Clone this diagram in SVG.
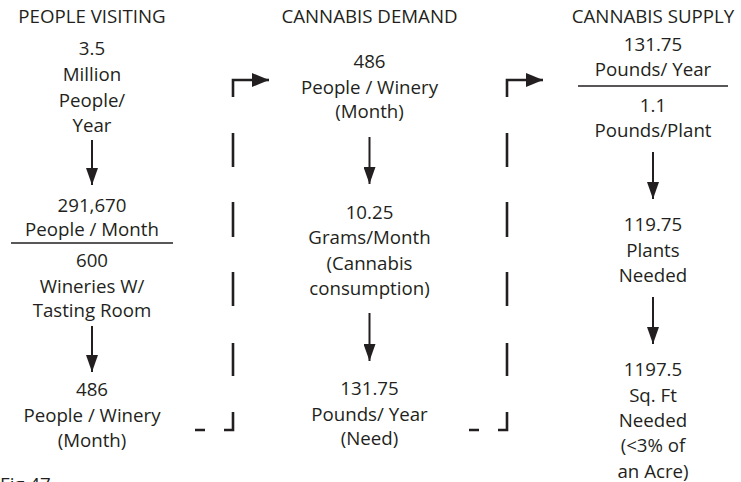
<svg xmlns="http://www.w3.org/2000/svg" width="741" height="482" viewBox="0 0 741 482">
<style>
text{font-family:"Open Sans","Noto Sans",sans-serif;font-size:18.7px;fill:#231f20;text-anchor:middle}
.fig{text-anchor:start}
.rule{stroke:#231f20;stroke-width:1.3;fill:none}
.shaft{stroke:#231f20;stroke-width:2;fill:none}
.dash{stroke:#231f20;stroke-width:2.6;fill:none;stroke-linecap:butt}
</style>
<defs>
<marker id="ad" markerUnits="userSpaceOnUse" markerWidth="17" markerHeight="12" refX="17" refY="6" orient="auto">
<path d="M0,0 L17,6 L0,12 z" fill="#231f20"/>
</marker>
<marker id="ar" markerUnits="userSpaceOnUse" markerWidth="17" markerHeight="14" refX="17" refY="7" orient="auto">
<path d="M0,0 L17,7 L0,14 z" fill="#231f20"/>
</marker>
</defs>
<rect width="741" height="482" fill="#fff"/>

<g id="col1">
<text x="92" y="23">PEOPLE VISITING</text>
<g id="n1"><text x="92" y="55">3.5</text><text x="92" y="81">Million</text><text x="92" y="106.5">People/</text><text x="92" y="132">Year</text></g>
<g id="n2"><text x="92" y="212">291,670</text><text x="92" y="236">People / Month</text>
<line class="rule" x1="11" y1="243" x2="173" y2="243"/>
<text x="92" y="267">600</text><text x="92" y="293">Wineries W/</text><text x="92" y="317">Tasting Room</text></g>
<g id="n3"><text x="92" y="396">486</text><text x="92" y="422">People / Winery</text><text x="92" y="447">(Month)</text></g>
</g>

<g id="col2">
<text x="369.5" y="23">CANNABIS DEMAND</text>
<g id="n4"><text x="369.5" y="68">486</text><text x="369.5" y="94">People / Winery</text><text x="369.5" y="118">(Month)</text></g>
<g id="n5"><text x="369.5" y="219">10.25</text><text x="369.5" y="244">Grams/Month</text><text x="369.5" y="270">(Cannabis</text><text x="369.5" y="295">consumption)</text></g>
<g id="n6"><text x="369.5" y="395">131.75</text><text x="369.5" y="421">Pounds/ Year</text><text x="369.5" y="445">(Need)</text></g>
</g>

<g id="col3">
<text x="653" y="23">CANNABIS SUPPLY</text>
<g id="n7"><text x="653" y="51">131.75</text><text x="653" y="76">Pounds/ Year</text>
<line class="rule" x1="578" y1="86" x2="728" y2="86"/>
<text x="653" y="112">1.1</text><text x="653" y="137">Pounds/Plant</text></g>
<g id="n8"><text x="653" y="231">119.75</text><text x="653" y="257">Plants</text><text x="653" y="282">Needed</text></g>
<g id="n9"><text x="653" y="376">1197.5</text><text x="653" y="402">Sq. Ft</text><text x="653" y="427">Needed</text><text x="653" y="452">(&lt;3% of</text><text x="653" y="478">an Acre)</text></g>
</g>

<g id="connectors">
<line class="shaft" x1="92" y1="140" x2="92" y2="185" marker-end="url(#ad)"/>
<line class="shaft" x1="92" y1="326" x2="92" y2="372" marker-end="url(#ad)"/>
<line class="shaft" x1="369.5" y1="137" x2="369.5" y2="184" marker-end="url(#ad)"/>
<line class="shaft" x1="369.5" y1="313" x2="369.5" y2="361" marker-end="url(#ad)"/>
<line class="shaft" x1="653" y1="152" x2="653" y2="199" marker-end="url(#ad)"/>
<line class="shaft" x1="653" y1="297" x2="653" y2="344" marker-end="url(#ad)"/>
<path class="dash" d="M195,430 H205 M224,430 H233 V412 M233,376 V343 M233,306 V272 M233,237 V202 M233,167 V133 M233,97 V80 H253"/>
<line class="dash" x1="252" y1="80" x2="269" y2="80" marker-end="url(#ar)"/>
<path class="dash" d="M469,430 H479 M498,430 H507 V412 M507,376 V343 M507,306 V272 M507,237 V202 M507,167 V133 M507,97 V80 H527"/>
<line class="dash" x1="526" y1="80" x2="543" y2="80" marker-end="url(#ar)"/>
</g>

<text class="fig" x="0" y="491">Fig 47</text>
</svg>
